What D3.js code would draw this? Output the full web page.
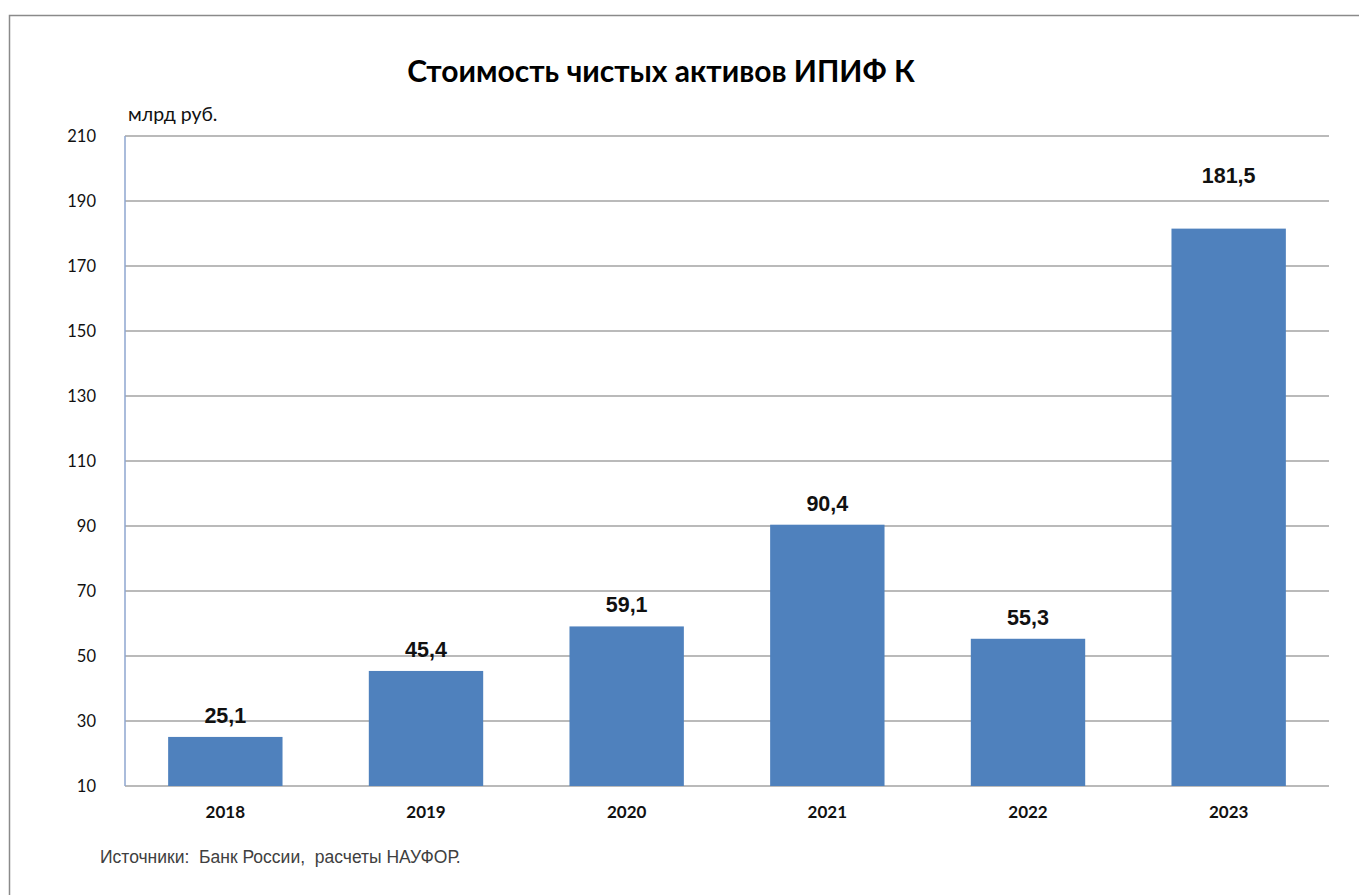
<!DOCTYPE html>
<html>
<head>
<meta charset="utf-8">
<script src="https://cdn.jsdelivr.net/npm/d3@7"></script>
<style>
  html, body { margin: 0; padding: 0; background: #ffffff; }
  svg { display: block; }
</style>
</head>
<body>
<svg id="chart" width="1359" height="895"></svg>
<script>
// Net asset value of closed-end funds for qualified investors, bn RUB
const years = ["2018", "2019", "2020", "2021", "2022", "2023"];
const values = [25.1, 45.4, 59.1, 90.4, 55.3, 181.5];
const valueLabels = ["25,1", "45,4", "59,1", "90,4", "55,3", "181,5"];
const yTicks = [10, 30, 50, 70, 90, 110, 130, 150, 170, 190, 210];

const titleText = "Стоимость чистых активов ИПИФ К";
const unitText = "млрд руб.";
const sourceText = "Источники:  Банк России,  расчеты НАУФОР.";

const W = 1359, H = 895;
const plot = { left: 125, right: 1329, top: 136, bottom: 786 };

const svg = d3.select("#chart");

// outer frame
svg.append("rect")
  .attr("x", 9.5).attr("y", 15.5)
  .attr("width", W + 20).attr("height", H + 20)
  .attr("fill", "none").attr("stroke", "#8a8a8a").attr("stroke-width", 1.5);

const x = d3.scaleBand().domain(years)
  .range([plot.left, plot.right]).paddingInner(0.43).paddingOuter(0.215);
const y = d3.scaleLinear().domain([10, 210]).range([plot.bottom, plot.top]);

// horizontal gridlines
svg.append("g")
  .selectAll("line").data(yTicks).join("line")
  .attr("x1", plot.left).attr("x2", plot.right)
  .attr("y1", d => y(d)).attr("y2", d => y(d))
  .attr("stroke", "#a3a3a3").attr("stroke-width", 1.5);

// bars
svg.append("g")
  .selectAll("rect").data(values).join("rect")
  .attr("x", (d, i) => x(years[i]))
  .attr("width", x.bandwidth())
  .attr("y", d => y(d))
  .attr("height", d => y(10) - y(d))
  .attr("fill", "#4f81bd");

// left axis line
svg.append("line")
  .attr("x1", plot.left).attr("x2", plot.left)
  .attr("y1", plot.top).attr("y2", plot.bottom)
  .attr("stroke", "#8ea6cf").attr("stroke-width", 1.5);

// y axis tick labels
const yAxis = d3.axisLeft(y).tickValues(yTicks).tickSize(0).tickPadding(0).tickFormat(d3.format("d"));
const yg = svg.append("g").attr("transform", `translate(${plot.left - 29},0)`).call(yAxis);
yg.select(".domain").remove();
yg.selectAll("text")
  .attr("font-family", "Lato, 'Open Sans', sans-serif")
  .attr("font-size", 16.5).attr("fill", "#111");

// x axis category labels
const xAxis = d3.axisBottom(x).tickSize(0).tickPadding(0);
const xg = svg.append("g").attr("transform", `translate(0,${plot.bottom + 20})`).call(xAxis);
xg.select(".domain").remove();
xg.selectAll("text")
  .attr("font-family", "Lato, 'Open Sans', sans-serif")
  .attr("font-weight", "bold")
  .attr("font-size", 17).attr("fill", "#111");

// value labels above bars (the tallest one sits higher)
const labelLift = d => d > 150 ? 46 : 14;
svg.append("g")
  .selectAll("text").data(values).join("text")
  .attr("x", (d, i) => x(years[i]) + x.bandwidth() / 2)
  .attr("y", d => y(d) - labelLift(d))
  .attr("text-anchor", "middle")
  .attr("font-family", "'Liberation Sans', Arial, sans-serif")
  .attr("font-weight", "bold")
  .attr("font-size", 21.5)
  .attr("fill", "#111")
  .text((d, i) => valueLabels[i]);

// title
svg.append("text")
  .attr("x", 661).attr("y", 82)
  .attr("text-anchor", "middle")
  .attr("font-family", "Lato, 'Open Sans', sans-serif")
  .attr("font-weight", "bold")
  .attr("font-size", 30)
  .attr("fill", "#000")
  .text(titleText);

// unit label
svg.append("text")
  .attr("x", 128).attr("y", 121)
  .attr("font-family", "Lato, 'Open Sans', sans-serif")
  .attr("font-size", 19.5)
  .attr("fill", "#111")
  .text(unitText);

// source note
svg.append("text")
  .attr("x", 100).attr("y", 863)
  .attr("font-family", "'Liberation Sans', Arial, sans-serif")
  .attr("font-size", 17.5)
  .attr("fill", "#404040")
  .attr("xml:space", "preserve")
  .style("white-space", "pre")
  .text(sourceText);
</script>
</body>
</html>
